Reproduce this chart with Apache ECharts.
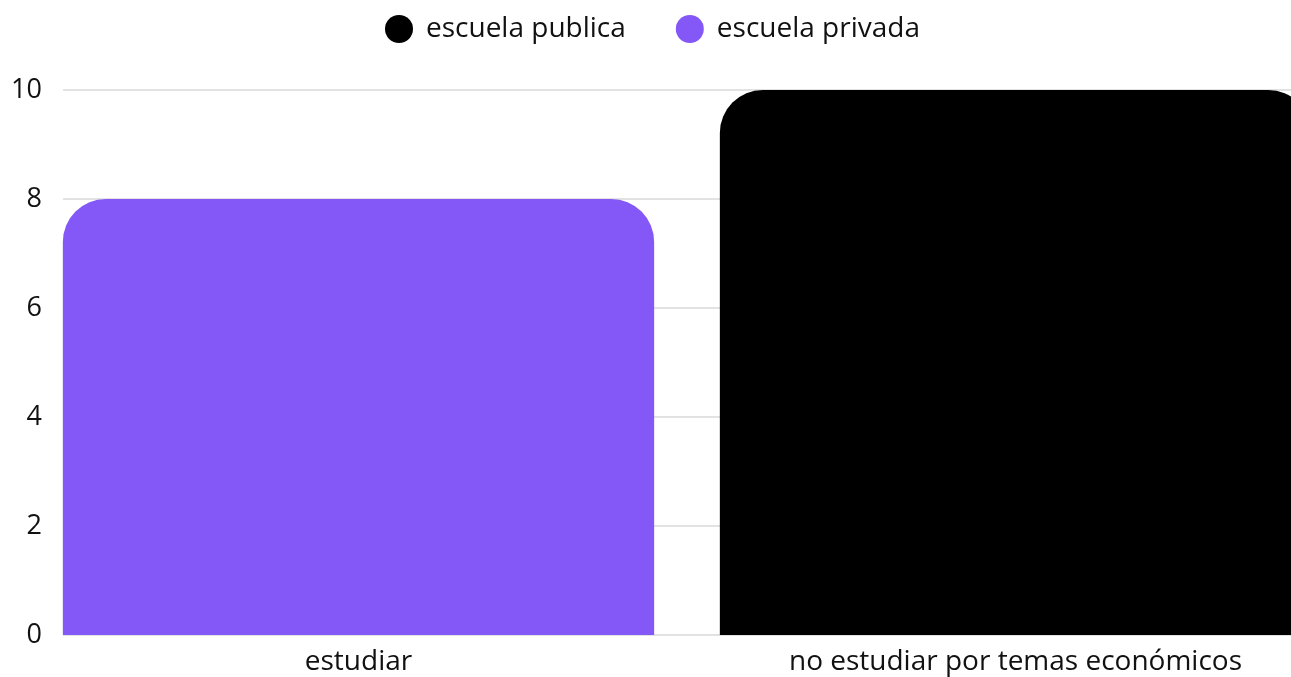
<!DOCTYPE html>
<html>
<head>
<meta charset="utf-8">
<script src="https://cdn.jsdelivr.net/npm/echarts@6/dist/echarts.min.js"></script>
<style>
html,body{margin:0;padding:0;background:#fff;}
#chart{width:1291px;height:677px;}
</style>
</head>
<body>
<div id="chart"></div>
<script>
const categories = ['estudiar', 'no estudiar por temas económicos'];
const seriesNames = ['escuela publica', 'escuela privada'];
const publica = [0, 10];
const privada = [8, 0];
const yTicks = { min: 0, max: 10, interval: 2 };
const colors = { publica: '#000000', privada: '#8458f6' };

const font = 'Open Sans';
const chart = echarts.init(document.getElementById('chart'), null, { renderer: 'canvas' });
chart.setOption({
  animation: false,
  backgroundColor: '#ffffff',
  textStyle: { fontFamily: font },
  legend: {
    data: seriesNames.map(n => ({ name: n, itemStyle: { color: n === seriesNames[0] ? colors.publica : colors.privada } })),
    top: 10,
    left: 380,
    icon: 'circle',
    itemWidth: 28,
    itemHeight: 28,
    itemGap: 50,
    textStyle: { fontFamily: font, fontSize: 28, color: '#111', padding: [0, 0, 0, 8] }
  },
  grid: [
    { left: 30, width: 1314, top: 90, bottom: 42, containLabel: false, outerBoundsMode: 'none' },
    { left: 63, right: 0, top: 90, bottom: 42, containLabel: false, outerBoundsMode: 'none' }
  ],
  xAxis: [
    {
      type: 'category', gridIndex: 0, data: categories,
      axisLine: { show: false }, axisTick: { show: false },
      axisLabel: { fontFamily: font, fontSize: 28, color: '#111', margin: 13 }
    },
    { type: 'value', gridIndex: 1, show: false, min: 0, max: 1 }
  ],
  yAxis: [
    { type: 'value', gridIndex: 0, show: false, min: yTicks.min, max: yTicks.max, interval: yTicks.interval },
    {
      type: 'value', gridIndex: 1, min: yTicks.min, max: yTicks.max, interval: yTicks.interval,
      axisLine: { show: false }, axisTick: { show: false },
      axisLabel: { fontFamily: font, fontSize: 27, color: '#111', margin: 21, padding: [6, 0, 0, 0] },
      splitLine: { lineStyle: { color: '#d9d9d9', width: 1.5 } }
    }
  ],
  series: [
    {
      name: seriesNames[0], type: 'bar', stack: 'total', xAxisIndex: 0, yAxisIndex: 0,
      data: publica, barCategoryGap: '10%',
      itemStyle: { color: colors.publica, borderRadius: [43, 43, 0, 0] }
    },
    {
      name: seriesNames[1], type: 'bar', stack: 'total', xAxisIndex: 0, yAxisIndex: 0,
      data: privada, barCategoryGap: '10%',
      itemStyle: { color: colors.privada, borderRadius: [43, 43, 0, 0] }
    }
  ]
});
</script>
</body>
</html>
